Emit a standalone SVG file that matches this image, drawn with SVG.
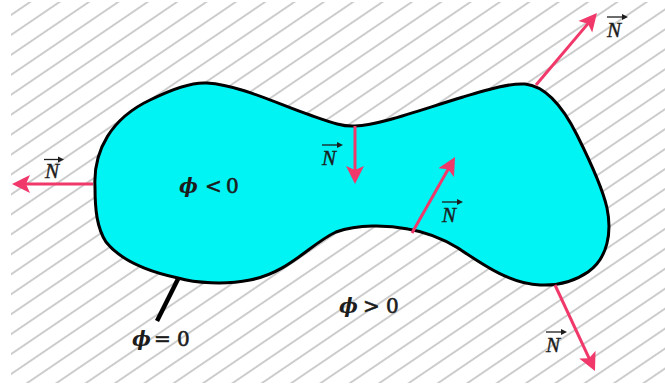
<svg xmlns="http://www.w3.org/2000/svg" width="665" height="385" viewBox="0 0 665 385">
  <style>
    .lbl { font-family: "Liberation Serif", "DejaVu Serif", serif; font-style: italic; font-size: 21px; fill: #1c1c1c; stroke: #1c1c1c; stroke-width: 0.4; }
    .phi { font-family: "DejaVu Serif", "Liberation Serif", serif; font-size: 20px; fill: #1c1c1c; stroke: #1c1c1c; stroke-width: 0.6; }
    .sym { font-family: "DejaVu Serif", serif; font-size: 20px; font-weight: bold; font-style: italic; stroke-width: 0; }
    .ovr { stroke: #1c1c1c; stroke-width: 1.3; fill: none; }
    .ovh { fill: #1c1c1c; }
    .vec { stroke: #f0386a; stroke-width: 3; fill: none; marker-end: url(#head); }
  </style>
  <defs>
    <pattern id="hatch" patternUnits="userSpaceOnUse" width="20" height="16.5" patternTransform="translate(11 15) rotate(-34.2)">
      <line x1="0" y1="0" x2="20" y2="0" stroke="#b8b8b8" stroke-width="1.4"/>
      <line x1="0" y1="16.5" x2="20" y2="16.5" stroke="#b8b8b8" stroke-width="1.4"/>
    </pattern>
    <marker id="head" markerUnits="userSpaceOnUse" markerWidth="20" markerHeight="20" refX="10" refY="9" orient="auto" viewBox="0 0 20 18">
      <path d="M0,0 L18,9 L0,18 L4,9 Z" fill="#f0386a"/>
    </marker>
  </defs>
  <rect width="665" height="385" fill="#ffffff"/>
  <rect id="outside" x="11" y="2" width="654" height="381" fill="url(#hatch)"/>

  <g id="region">
    <path d="M 95 187 C 93 150, 112 118, 150 100 C 172 89, 192 82, 207 83 C 240 85, 280 105, 310 115 C 330 122, 343 127, 355 126 C 380 125, 420 110, 463 97 C 490 89, 510 83, 525 84 C 545 86, 562 105, 577 135 C 592 165, 603 190, 607 208 C 612 232, 608 258, 588 272 C 575 281, 560 286, 540 285 C 510 284, 482 264, 458 248 C 440 237, 426 232, 408 229 C 388 225, 358 224, 336 232 C 310 244, 290 272, 250 280 C 225 285, 195 283, 178 278 C 150 272, 122 262, 106 242 C 97 228, 95 210, 95 187 Z" fill="#00f4f4" stroke="#000" stroke-width="3"/>
  </g>

  <g id="connectors">
    <line class="vec" x1="93" y1="184" x2="20" y2="184"/>
    <line class="vec" x1="355" y1="126" x2="355" y2="176"/>
    <line class="vec" x1="412" y1="233" x2="451.1" y2="164"/>
    <line class="vec" x1="536" y1="85" x2="591.8" y2="19.1"/>
    <line class="vec" x1="555" y1="285" x2="591.6" y2="363.7"/>
    <line id="zero-pointer" x1="178" y1="279" x2="157" y2="321" stroke="#000" stroke-width="4.5"/>
  </g>

  <g id="label-n-left">
    <text class="lbl" x="45" y="178">N</text>
    <path class="ovr" d="M44 159.5 H61"/><path class="ovh" d="M64 159.5 L58 156.5 L58 162.5 Z"/>
  </g>
  <g id="label-n-neck">
    <text class="lbl" x="322" y="165">N</text>
    <path class="ovr" d="M322 145 H340"/><path class="ovh" d="M343 145 L337 142 L337 148 Z"/>
  </g>
  <g id="label-n-inner">
    <text class="lbl" x="442" y="222">N</text>
    <path class="ovr" d="M442 202 H460"/><path class="ovh" d="M463 202 L457 199 L457 205 Z"/>
  </g>
  <g id="label-n-topright">
    <text class="lbl" x="607" y="37">N</text>
    <path class="ovr" d="M607 17 H625"/><path class="ovh" d="M628 17 L622 14 L622 20 Z"/>
  </g>
  <g id="label-n-bottomright">
    <text class="lbl" x="546" y="352">N</text>
    <path class="ovr" d="M546 332 H564"/><path class="ovh" d="M567 332 L561 329 L561 335 Z"/>
  </g>

  <g id="label-inside">
    <text class="phi" y="193"><tspan class="sym" x="179">ϕ</tspan><tspan x="205">&lt;</tspan><tspan x="226">0</tspan></text>
  </g>
  <g id="label-zero">
    <text class="phi" y="346"><tspan class="sym" x="132">ϕ</tspan><tspan x="154">=</tspan><tspan x="177">0</tspan></text>
  </g>
  <g id="label-outside">
    <text class="phi" y="313"><tspan class="sym" x="339">ϕ</tspan><tspan x="363">&gt;</tspan><tspan x="386">0</tspan></text>
  </g>
</svg>
